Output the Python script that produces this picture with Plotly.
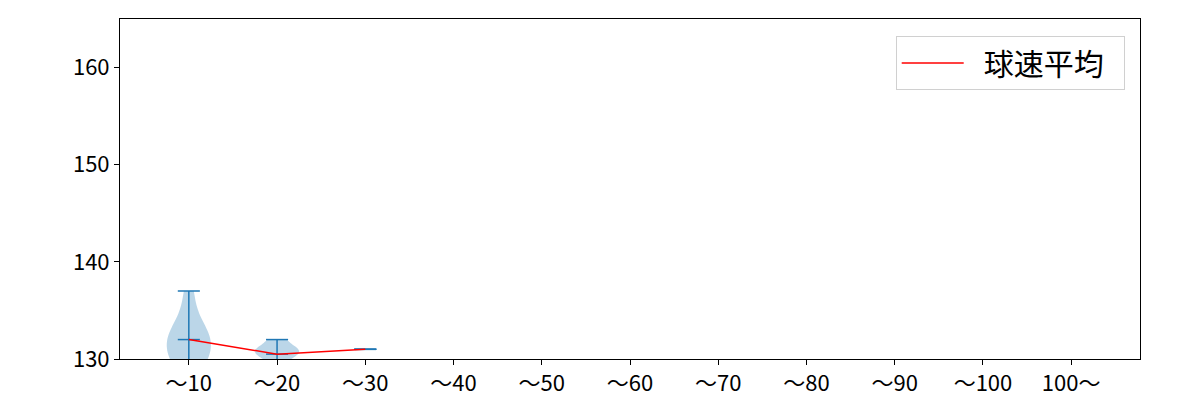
import plotly.graph_objects as go

# categories on the x axis
categories = ["～10", "～20", "～30", "～40", "～50", "～60", "～70", "～80", "～90", "～100", "100～"]

# pitch speeds (km/h) per bin
speeds_10 = [128.5, 129.5, 130.0, 130.5, 131.0, 131.5, 132.0, 132.5, 133.0, 133.5, 135.0, 137.0]
speeds_20 = [128.5, 130.0, 130.5, 131.0, 131.0, 132.0]
speeds_30 = [131.0]
speed_groups = [speeds_10, speeds_20, speeds_30]

# average speed line
mean_x = [0, 1, 2]
mean_speed = [132.0, 130.5, 131.0]

BLUE = "#1f77b4"
FONT = "Noto Sans CJK JP"

fig = go.Figure()

for i, vals in enumerate(speed_groups):
    if len(vals) > 1:
        fig.add_trace(go.Violin(
            x=[i] * len(vals), y=vals,
            width=0.5, scalemode="width", spanmode="hard",
            fillcolor="rgba(31,119,180,0.3)", line=dict(width=0, color="rgba(0,0,0,0)"),
            points=False, box_visible=False, meanline_visible=False,
            showlegend=False, hoverinfo="skip",
        ))

# extrema bars and caps like matplotlib's violinplot
cap_x, cap_y = [], []
for i, vals in enumerate(speed_groups):
    lo, hi = min(vals), max(vals)
    avg = sum(vals) / len(vals)
    cap_x += [i, i, None]
    cap_y += [lo, hi, None]
    for v in (lo, hi, avg):
        cap_x += [i - 0.125, i + 0.125, None]
        cap_y += [v, v, None]
fig.add_trace(go.Scatter(x=cap_x, y=cap_y, mode="lines",
                         line=dict(color=BLUE, width=1.5),
                         showlegend=False, hoverinfo="skip"))

fig.add_trace(go.Scatter(x=mean_x, y=mean_speed, mode="lines",
                         line=dict(color="red", width=1.5),
                         name="\u2002球速平均\u2002"))

axis_common = dict(showline=True, linecolor="black", linewidth=1, mirror=True,
                   ticks="outside", ticklen=5, tickcolor="black", showgrid=False,
                   zeroline=False, automargin=False,
                   tickfont=dict(family=FONT, size=22, color="black"))

fig.update_layout(
    width=1184, height=392,
    plot_bgcolor="white", paper_bgcolor="white",
    margin=dict(l=112, r=52, t=11, b=41),
    xaxis=dict(range=[-0.78, 10.78], tickmode="array",
               tickvals=list(range(len(categories))), ticktext=categories,
               **axis_common),
    yaxis=dict(range=[130, 165], tickvals=[130, 140, 150, 160], **axis_common),
    legend=dict(x=0.985, y=0.95, xanchor="right", yanchor="top",
                bordercolor="#d0d0d0", borderwidth=1, bgcolor="white",
                itemwidth=62,
                font=dict(family=FONT, size=30, color="black")),
    font=dict(family=FONT),
)

fig.write_html("out.html")
